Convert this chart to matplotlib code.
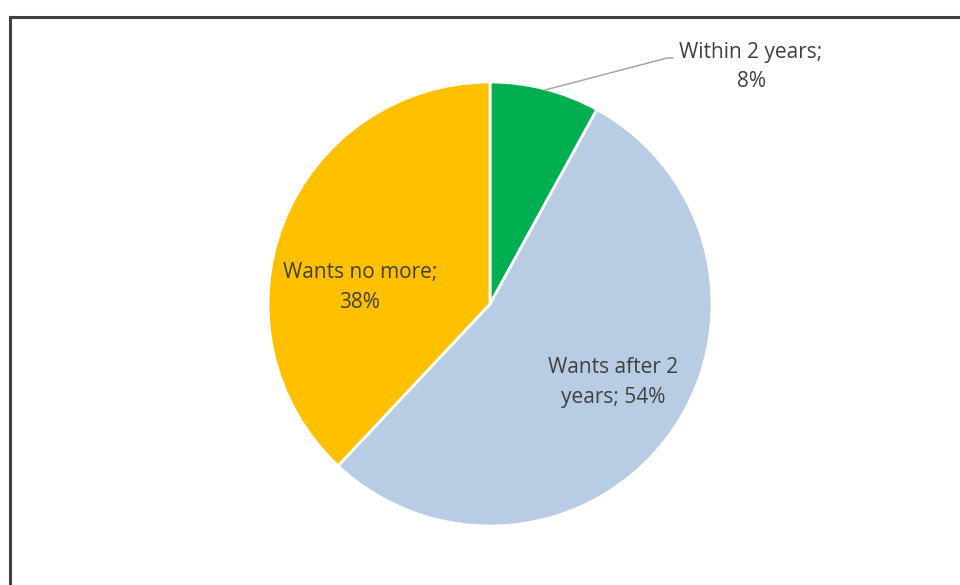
import matplotlib
matplotlib.use("Agg")
import matplotlib.pyplot as plt
from matplotlib.lines import Line2D

labels = ["Within 2 years", "Wants after 2 years", "Wants no more"]
values = [8, 54, 38]
colors = ["#00B050", "#B8CCE4", "#FFC000"]
label_texts = ["Within 2 years;\n8%", "Wants after 2\nyears; 54%", "Wants no more;\n38%"]

W, H = 960, 585
fig = plt.figure(figsize=(W / 100, H / 100), dpi=100)
fig.patch.set_facecolor("white")

# pie bounding box in pixels: center (490,304), radius 222
cx, cy, r = 490, 304, 222
ax = fig.add_axes([(cx - r) / W, (H - cy - r) / H, 2 * r / W, 2 * r / H])
ax.set_xlim(-1, 1)
ax.set_ylim(-1, 1)
ax.set_aspect("equal")
ax.axis("off")

wedges, _ = ax.pie(values, colors=colors, startangle=90, counterclock=False,
                   radius=1.0, center=(0, 0),
                   wedgeprops=dict(edgecolor="white", linewidth=2))
ax.set_xlim(-1, 1)
ax.set_ylim(-1, 1)

font = dict(family=["Open Sans", "DejaVu Sans"], size=15, color="#404040",
            ha="center", va="center", linespacing=1.55)
label_pos = [(1.176, 1.068), (0.554, -0.355), (-0.586, 0.074)]
for (x, y), t in zip(label_pos, label_texts):
    ax.text(x, y, t, clip_on=False, **font)

# leader line for the small slice
ax.add_line(Line2D([0.248, 0.797, 0.824], [0.964, 1.108, 1.108],
                   color="#A6A6A6", linewidth=1.1, clip_on=False))

# outer frame (clipped by image edges on the right and bottom)
fx0, fy0 = 10 / W, 1 - 17 / H
fig.add_artist(Line2D([fx0, fx0], [fy0, -0.1], color="#404040", linewidth=2.2,
                      transform=fig.transFigure))
fig.add_artist(Line2D([fx0, 1.1], [fy0, fy0], color="#404040", linewidth=2.2,
                      transform=fig.transFigure))

fig.savefig("out.png", dpi=100)
